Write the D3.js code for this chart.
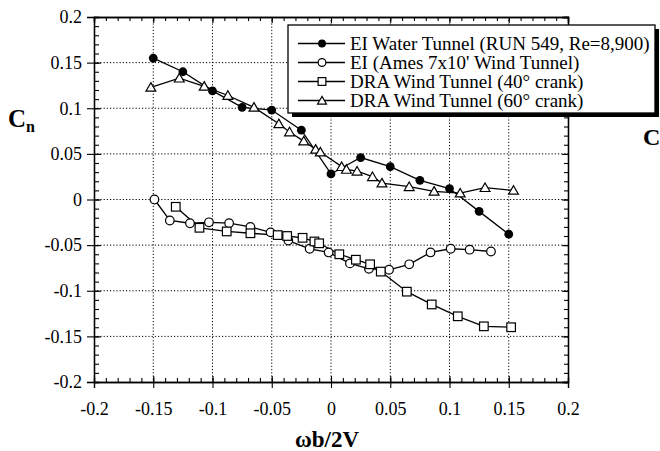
<!DOCTYPE html>
<html><head><meta charset="utf-8">
<script src="https://cdn.jsdelivr.net/npm/d3@7/dist/d3.min.js"></script>
<style>body{margin:0;background:#fff}svg{display:block}text{font-family:"Liberation Serif","Times New Roman",serif}</style>
</head><body>
<svg id="c" width="660" height="451"></svg>
<script>
const tickValues=[-0.2,-0.15,-0.1,-0.05,0,0.05,0.1,0.15,0.2];
const tickLabels=["-0.2","-0.15","-0.1","-0.05","0","0.05","0.1","0.15","0.2"];
const seriesNames=["EI Water Tunnel (RUN 549, Re=8,900)","EI (Ames 7x10' Wind Tunnel)","DRA Wind Tunnel (40° crank)","DRA Wind Tunnel (60° crank)"];
const waterX=[-0.15,-0.125,-0.1,-0.075,-0.05,-0.025,0,0.025,0.05,0.075,0.1,0.125,0.15];
const waterY=[0.155,0.140,0.119,0.101,0.098,0.076,0.028,0.046,0.036,0.021,0.012,-0.013,-0.038];
const amesX=[-0.149,-0.136,-0.119,-0.103,-0.086,-0.068,-0.051,-0.036,-0.018,-0.002,0.016,0.032,0.049,0.066,0.084,0.101,0.117,0.135];
const amesY=[0.000,-0.023,-0.026,-0.025,-0.026,-0.030,-0.036,-0.045,-0.054,-0.058,-0.070,-0.076,-0.077,-0.071,-0.058,-0.054,-0.055,-0.057];
const dra40X=[-0.131,-0.111,-0.088,-0.068,-0.045,-0.037,-0.024,-0.014,-0.010,0.007,0.021,0.033,0.042,0.064,0.085,0.107,0.129,0.152];
const dra40Y=[-0.008,-0.031,-0.035,-0.037,-0.039,-0.040,-0.042,-0.046,-0.048,-0.060,-0.066,-0.071,-0.079,-0.101,-0.115,-0.128,-0.139,-0.140];
const dra60X=[-0.152,-0.128,-0.107,-0.087,-0.065,-0.044,-0.035,-0.023,-0.013,-0.009,0.009,0.013,0.022,0.035,0.043,0.066,0.087,0.109,0.130,0.154];
const dra60Y=[0.123,0.133,0.124,0.114,0.101,0.083,0.074,0.064,0.055,0.052,0.036,0.033,0.031,0.025,0.018,0.014,0.009,0.007,0.013,0.010];

const svg=d3.select("#c");
svg.append("rect").attr("width",660).attr("height",451).attr("fill","#fff");
const L=94,R=568,T=17,B=382;
const x=d3.scaleLinear().domain([-0.2,0.2]).range([L,R]);
const y=d3.scaleLinear().domain([-0.2,0.2]).range([B,T]);
const minor=d3.range(-20,21).map(i=>i/100);

// grid
const gridV=tickValues.slice(1,-1);
svg.append("g").selectAll("line").data(gridV).join("line")
  .attr("x1",d=>x(d)).attr("x2",d=>x(d)).attr("y1",T).attr("y2",B)
  .attr("stroke","#000").attr("stroke-width",1).attr("stroke-dasharray","1.2,2");
svg.append("g").selectAll("line").data(gridV).join("line")
  .attr("y1",d=>y(d)).attr("y2",d=>y(d)).attr("x1",L).attr("x2",R)
  .attr("stroke","#000").attr("stroke-width",1).attr("stroke-dasharray","1.2,2");

function styleAxis(g){g.select(".domain").attr("stroke","#000").attr("stroke-width",1.3);g.selectAll(".tick line").attr("stroke","#000").attr("stroke-width",1.1);}
// bottom
svg.append("g").attr("transform",`translate(0,${B})`).call(d3.axisBottom(x).tickValues(minor).tickSize(-4).tickFormat("")).call(styleAxis);
const bx=svg.append("g").attr("transform",`translate(0,${B})`).call(d3.axisBottom(x).tickValues(tickValues).tickFormat((d,i)=>tickLabels[i]).tickSize(6).tickPadding(14)).call(styleAxis);
bx.selectAll(".tick line").attr("y1",-6).attr("y2",6);
bx.selectAll("text").attr("font-size",18).attr("fill","#000").attr("font-family","Liberation Serif");
// left
svg.append("g").attr("transform",`translate(${L},0)`).call(d3.axisLeft(y).tickValues(minor).tickSize(-5).tickFormat("")).call(styleAxis);
const ly=svg.append("g").attr("transform",`translate(${L},0)`).call(d3.axisLeft(y).tickValues(tickValues).tickFormat((d,i)=>tickLabels[i]).tickSize(7).tickPadding(5)).call(styleAxis);
ly.selectAll(".tick line").attr("x1",-7).attr("x2",7);
ly.selectAll("text").attr("font-size",18).attr("fill","#000").attr("font-family","Liberation Serif");
// top
svg.append("g").attr("transform",`translate(0,${T})`).call(d3.axisTop(x).tickValues(minor).tickSize(-4).tickFormat("")).call(styleAxis);
svg.append("g").attr("transform",`translate(0,${T})`).call(d3.axisTop(x).tickValues(tickValues).tickSize(-6).tickFormat("")).call(styleAxis);
// right
svg.append("g").attr("transform",`translate(${R},0)`).call(d3.axisRight(y).tickValues(minor).tickSize(-4).tickFormat("")).call(styleAxis);
svg.append("g").attr("transform",`translate(${R},0)`).call(d3.axisRight(y).tickValues(tickValues).tickSize(-6).tickFormat("")).call(styleAxis);

// series
const series=[
 {xs:waterX,ys:waterY,type:"fcircle"},
 {xs:amesX,ys:amesY,type:"ocircle"},
 {xs:dra40X,ys:dra40Y,type:"square"},
 {xs:dra60X,ys:dra60Y,type:"triangle"}
];
const line=d3.line().x(d=>x(d[0])).y(d=>y(d[1]));
function marker(g,type,cx,cy,s){
  s=s||1;
  if(type==="fcircle") g.append("circle").attr("cx",cx).attr("cy",cy).attr("r",4.4*s).attr("fill","#000");
  else if(type==="ocircle") g.append("circle").attr("cx",cx).attr("cy",cy).attr("r",4.3*s).attr("fill","#fff").attr("stroke","#000").attr("stroke-width",1.2);
  else if(type==="square") g.append("rect").attr("x",cx-4.3*s).attr("y",cy-4.3*s).attr("width",8.6*s).attr("height",8.6*s).attr("fill","#fff").attr("stroke","#000").attr("stroke-width",1.2);
  else g.append("path").attr("transform",`translate(${cx},${cy+1})`).attr("d",d3.symbol(d3.symbolTriangle,42*s*s)()).attr("fill","#fff").attr("stroke","#000").attr("stroke-width",1.2);
}
series.forEach(s=>{
  const pts=s.xs.map((v,i)=>[v,s.ys[i]]);
  svg.append("path").datum(pts).attr("d",line).attr("fill","none").attr("stroke","#000").attr("stroke-width",1.3);
});
series.forEach(s=>{
  const g=svg.append("g");
  s.xs.forEach((v,i)=>marker(g,s.type,x(v),y(s.ys[i])));
});

// legend
const lg=svg.append("g");
lg.append("rect").attr("x",292).attr("y",29).attr("width",367).attr("height",88).attr("fill","#000");
lg.append("rect").attr("x",288).attr("y",25).attr("width",367).attr("height",88).attr("fill","#fff").attr("stroke","#000").attr("stroke-width",1.3);
const base=[50,69,88,107];
seriesNames.forEach((n,i)=>{
  const cy=base[i]-6.5;
  lg.append("line").attr("x1",298).attr("x2",345).attr("y1",cy).attr("y2",cy).attr("stroke","#000").attr("stroke-width",1.3);
  marker(lg,series[i].type,322,cy,0.9);
  lg.append("text").attr("x",350).attr("y",base[i]).attr("font-size",19).text(n);
});

// axis titles
svg.append("text").attr("x",327).attr("y",447).attr("text-anchor","middle").attr("font-size",23).attr("font-weight","bold").text("ωb/2V");
const cn=svg.append("text").attr("x",8).attr("y",127).attr("font-weight","bold");
cn.append("tspan").attr("font-size",25).text("C");
cn.append("tspan").attr("font-size",16).attr("dy",5).text("n");
svg.append("text").attr("x",643).attr("y",145).attr("font-size",24).attr("font-weight","bold").text("C");
</script>
</body></html>
